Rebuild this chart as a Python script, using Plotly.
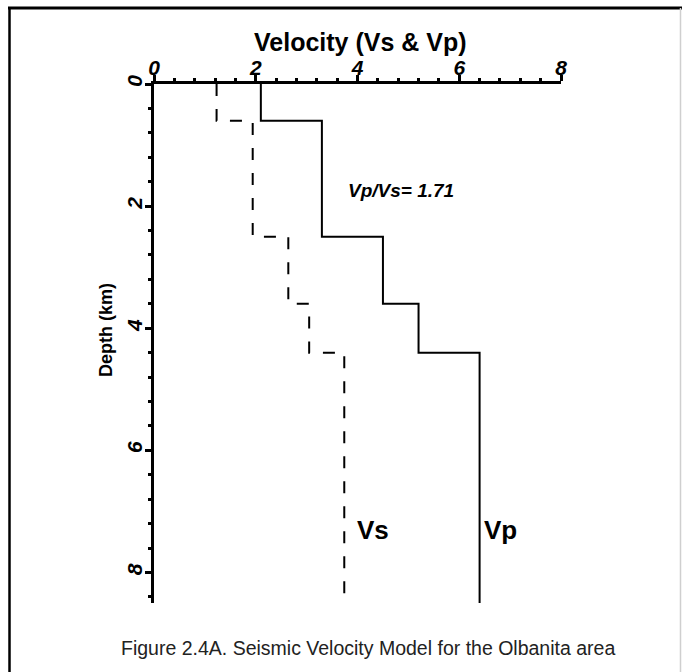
import plotly.graph_objects as go

# ---- data ----
layer_top_km = [0.0, 0.6, 2.5, 3.6, 4.4]
model_bottom_km = 8.5
vp_kms = [2.1, 3.3, 4.5, 5.2, 6.4]
vs_kms = [1.23, 1.94, 2.64, 3.05, 3.74]
x_ticks = [0, 2, 4, 6, 8]
y_ticks = [0, 2, 4, 6, 8]

title_text = "Velocity (Vs & Vp)"
ytitle_text = "Depth (km)"
ratio_text = "Vp/Vs= 1.71"
caption_text = "Figure 2.4A. Seismic Velocity Model for the Olbanita area"

# ---- layout geometry ----
W, H = 682, 672
ML, MR, MT, MB = 154, 121, 84, 69
PW, PH = W - ML - MR, H - MT - MB


def px_x(p):
    return (p - ML) / PW


def px_y(p):
    return (H - MB - p) / PH


def step_line(vals):
    bounds = list(layer_top_km) + [model_bottom_km]
    xs, ys = [], []
    for i, v in enumerate(vals):
        xs += [v, v]
        ys += [bounds[i], bounds[i + 1]]
    return xs, ys


FONT = "Liberation Sans, Arial, sans-serif"

fig = go.Figure()
vp_x, vp_y = step_line(vp_kms)
vs_x, vs_y = step_line(vs_kms)
fig.add_trace(go.Scatter(x=vp_x, y=vp_y, mode="lines", name="Vp",
                         line=dict(color="black", width=2), showlegend=False))
fig.add_trace(go.Scatter(x=vs_x, y=vs_y, mode="lines", name="Vs",
                         line=dict(color="black", width=2, dash="12px,13px"),
                         showlegend=False))

axis_common = dict(
    showline=True, linecolor="black", linewidth=2.5,
    ticks="outside", ticklen=6, tickwidth=2.5, tickcolor="black",
    showgrid=False, zeroline=False,
    tickfont=dict(family=FONT, size=21, color="black", weight="bold", style="italic"),
    minor=dict(dtick=0.4, ticks="outside", ticklen=3, tickwidth=2.5, tickcolor="black"),
)

fig.update_xaxes(side="top", range=[0, 8], tickmode="array", tickvals=x_ticks,
                 ticktext=[str(t) for t in x_ticks], ticklabelstandoff=-8,
                 **axis_common)
fig.update_yaxes(range=[model_bottom_km, 0], tickmode="array", tickvals=y_ticks,
                 ticktext=[str(t) for t in y_ticks], tickangle=-90,
                 ticklabelstandoff=-5, **axis_common)

annotations = [
    dict(text=title_text, xref="paper", yref="paper", x=px_x(360), y=px_y(42),
         xanchor="center", yanchor="middle", showarrow=False,
         font=dict(family=FONT, size=25, color="black", weight="bold")),
    dict(text=ytitle_text, xref="paper", yref="paper", x=px_x(106), y=px_y(330),
         xanchor="center", yanchor="middle", showarrow=False, textangle=-90,
         font=dict(family=FONT, size=18, color="black", weight="bold")),
    dict(text=ratio_text, xref="x", yref="y", x=4.86, y=1.74,
         xanchor="center", yanchor="middle", showarrow=False,
         font=dict(family=FONT, size=19, color="black", weight="bold", style="italic")),
    dict(text="Vs", xref="x", yref="y", x=3.95, y=7.3,
         xanchor="left", yanchor="middle", showarrow=False,
         font=dict(family=FONT, size=26, color="black", weight="bold")),
    dict(text="Vp", xref="x", yref="y", x=6.45, y=7.3,
         xanchor="left", yanchor="middle", showarrow=False,
         font=dict(family=FONT, size=26, color="black", weight="bold")),
    dict(text=caption_text, xref="paper", yref="paper", x=px_x(368), y=px_y(648),
         xanchor="center", yanchor="middle", showarrow=False,
         font=dict(family=FONT, size=19.5, color="#222222")),
]

shapes = [
    dict(type="line", xref="paper", yref="paper", x0=px_x(8), x1=px_x(682),
         y0=px_y(8), y1=px_y(8), line=dict(color="black", width=3)),
    dict(type="line", xref="paper", yref="paper", x0=px_x(9.5), x1=px_x(9.5),
         y0=px_y(7), y1=px_y(672), line=dict(color="black", width=2.5)),
    dict(type="line", xref="paper", yref="paper", x0=px_x(680.5), x1=px_x(680.5),
         y0=px_y(8), y1=px_y(672), line=dict(color="#cfcfcf", width=1.5)),
]

fig.update_layout(
    width=W, height=H,
    margin=dict(l=ML, r=MR, t=MT, b=MB, autoexpand=False),
    paper_bgcolor="white", plot_bgcolor="white",
    annotations=annotations, shapes=shapes,
    showlegend=False,
)

fig.write_html("out.html")
